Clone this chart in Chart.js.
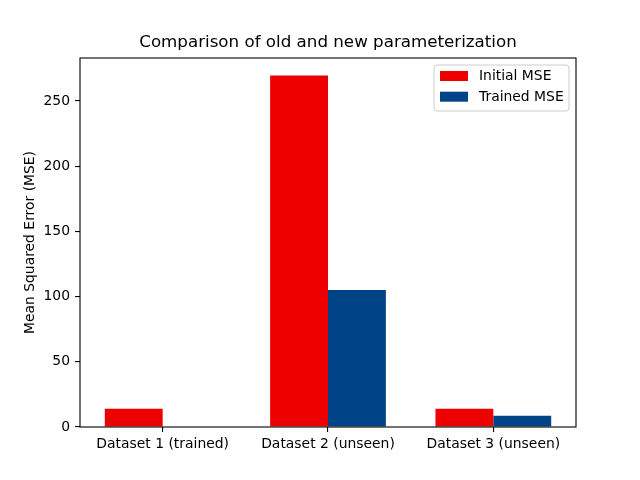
<!DOCTYPE html>
<html>
<head>
<meta charset="utf-8">
<script src="https://cdn.jsdelivr.net/npm/chart.js@4"></script>
<style>
  html, body { margin: 0; padding: 0; background: #fff; }
  #wrap { width: 640px; height: 480px; }
</style>
</head>
<body>
<div id="wrap"><canvas id="grafico" width="640" height="480"></canvas></div>
<script>
// Dados
const categorias = ['Dataset 1 (trained)', 'Dataset 2 (unseen)', 'Dataset 3 (unseen)'];
const mseInicial = [14, 269.5, 14];
const mseTreinado = [0, 105, 8.7];
const ticksY = [0, 50, 100, 150, 200, 250];
const tituloGrafico = 'Comparison of old and new parameterization';
const rotuloY = 'Mean Squared Error (MSE)';

const fonte = 'DejaVu Sans, sans-serif';

// moldura, título e legenda no estilo matplotlib
const extras = {
    id: 'extras',
    afterDraw(chart) {
        const ctx = chart.ctx;
        const a = chart.chartArea;
        ctx.save();

        ctx.strokeStyle = '#000';
        ctx.lineWidth = 1.1;
        ctx.strokeRect(a.left, a.top, a.right - a.left, a.bottom - a.top);

        ctx.fillStyle = '#000';
        ctx.font = '16.7px ' + fonte;
        ctx.textAlign = 'center';
        ctx.textBaseline = 'alphabetic';
        ctx.fillText(tituloGrafico, (a.left + a.right) / 2, a.top - 11.5);

        // legenda
        const bx = a.right - 142, by = a.top + 7, bw = 135, bh = 46;
        ctx.beginPath();
        ctx.roundRect(bx, by, bw, bh, 3);
        ctx.fillStyle = 'rgba(255,255,255,0.8)';
        ctx.fill();
        ctx.strokeStyle = '#cccccc';
        ctx.lineWidth = 1;
        ctx.stroke();

        ctx.font = '13.9px ' + fonte;
        ctx.textAlign = 'left';
        ctx.textBaseline = 'middle';
        chart.data.datasets.forEach((ds, i) => {
            const y = by + 11 + i * 20.7;
            ctx.fillStyle = ds.backgroundColor;
            ctx.fillRect(bx + 6, y - 5, 28, 10);
            ctx.fillStyle = '#000';
            ctx.fillText(ds.label, bx + 45, y + 0.5);
        });
        ctx.restore();
    }
};

const ctx = document.getElementById('grafico').getContext('2d');
new Chart(ctx, {
    type: 'bar',
    data: {
        labels: categorias,
        datasets: [
            {
                label: 'Initial MSE',
                data: mseInicial,
                backgroundColor: '#ee0000',
                borderWidth: 0
            },
            {
                label: 'Trained MSE',
                data: mseTreinado,
                backgroundColor: '#004488',
                borderWidth: 0
            }
        ]
    },
    options: {
        responsive: false,
        animation: false,
        layout: {
            padding: { top: 58, right: 64, bottom: 0, left: 0 }
        },
        categoryPercentage: 0.7,
        barPercentage: 1.0,
        plugins: {
            legend: { display: false },
            title: { display: false },
            tooltip: { enabled: false }
        },
        scales: {
            x: {
                offset: true,
                grid: {
                    offset: false,
                    drawOnChartArea: false,
                    drawTicks: true,
                    tickLength: 5,
                    color: '#000',
                    lineWidth: 1.1
                },
                border: { display: false },
                ticks: {
                    color: '#000',
                    font: { family: fonte, size: 13.9 },
                    padding: 4,
                    maxRotation: 0,
                    autoSkip: false
                },
                afterFit(scale) { scale.height = 53; }
            },
            y: {
                min: 0,
                max: 283,
                grid: {
                    drawOnChartArea: false,
                    drawTicks: true,
                    tickLength: 5,
                    color: '#000',
                    lineWidth: 1.1
                },
                border: { display: false },
                ticks: {
                    color: '#000',
                    font: { family: fonte, size: 13.9 },
                    padding: 5
                },
                afterBuildTicks(scale) {
                    scale.ticks = ticksY.map(v => ({ value: v }));
                },
                title: {
                    display: true,
                    text: rotuloY,
                    color: '#000',
                    font: { family: fonte, size: 13.9 },
                    padding: { top: 22, bottom: 0 }
                },
                afterFit(scale) { scale.width = 80; }
            }
        }
    },
    plugins: [extras]
});
</script>
</body>
</html>
